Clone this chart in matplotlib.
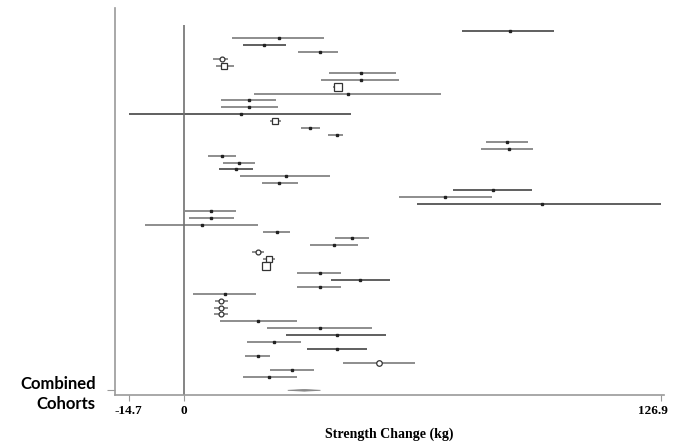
import matplotlib.pyplot as plt
import numpy as np

# --- DATA (kg) ---
lower = [74.0, 12.9, 15.6, 30.3, 7.8, 8.4, 38.5, 36.5, 39.7, 18.5,
         9.8, 9.8, -14.7, 22.8, 31.0, 38.4, 80.3, 78.9, 6.4, 10.4,
         9.3, 14.9, 20.7, 71.6, 57.1, 61.9, 0.3, 1.3, -10.3, 21.1,
         40.2, 33.4, 18.0, 21.1, 21.0, 30.0, 39.2, 30.0, 2.5, 8.3,
         8.0, 8.0, 9.6, 22.0, 27.1, 16.7, 32.7, 16.2, 42.4, 23.0,
         15.6]
estimate = [86.6, 25.2, 21.4, 36.1, 10.0, 10.7, 47.1, 47.1, 40.9, 43.6,
            17.2, 17.2, 15.1, 24.3, 33.6, 40.7, 85.8, 86.3, 10.2, 14.6,
            13.9, 27.0, 25.2, 82.2, 69.5, 95.1, 7.1, 7.3, 4.7, 24.7,
            44.8, 39.9, 19.6, 22.5, 21.8, 36.1, 46.8, 36.1, 11.0, 9.8,
            9.8, 9.8, 19.7, 36.3, 40.7, 23.9, 40.7, 19.7, 51.8, 28.8,
            22.5]
upper = [98.5, 37.3, 27.0, 40.9, 11.7, 13.4, 56.5, 57.3, 42.1, 68.4,
         24.4, 24.9, 44.5, 25.7, 36.1, 42.3, 91.4, 92.8, 13.8, 18.8,
         18.3, 38.7, 30.3, 92.6, 81.9, 126.9, 13.8, 13.4, 19.6, 28.1,
         49.2, 46.2, 21.4, 24.3, 22.6, 41.8, 54.7, 41.8, 19.2, 11.7,
         11.7, 11.7, 30.0, 50.1, 53.7, 31.0, 48.6, 22.8, 61.3, 34.7,
         30.0]
# hollow markers: row number -> (shape, size)
hollow = {5: ('o', 3.5), 6: ('s', 4), 9: ('s', 6), 14: ('s', 4.5),
          33: ('o', 3.5), 34: ('s', 4), 35: ('s', 6), 40: ('o', 3.5),
          41: ('o', 3.5), 42: ('o', 3.5), 49: ('o', 4)}
dark_rows = [1, 3, 13, 21, 24, 26, 37, 45, 47]

combined = (27.6, 32.0, 36.3)
xticks = [-14.7, 0, 126.9]
xtick_labels = ['-14.7', '0', '126.9']

fig = plt.figure(figsize=(6.73, 4.43), dpi=100)
ax = fig.add_axes([0.171, 0.108, 0.815, 0.874])

n = len(lower)
rows = np.arange(1, n + 1)
for i, r in enumerate(rows):
    col = '#444444' if r in dark_rows else '#7a7a7a'
    ax.hlines(r, lower[i], upper[i], color=col, lw=1.2)
    if r in hollow:
        shape, ms = hollow[r]
        ax.plot(estimate[i], r, marker=shape, ms=ms, mfc='white',
                mec='#333333', mew=0.9, ls='none')
    else:
        ax.plot(estimate[i], r, marker='s', ms=1.8, color='#222222', ls='none')

# combined estimate (flat diamond)
yc = n + 2
lo, est, hi = combined
ax.fill([lo, est, hi, est], [yc, yc - 0.12, yc, yc + 0.12],
        color='#888888', lw=0.6, ec='#888888')

ax.set_ylim(53.7, -2.4)
ax.set_xlim(-18.3, 127.5)
ax.vlines(0, 0, 53.7, color='#707070', lw=1.2)

ax.spines['top'].set_visible(False)
ax.spines['right'].set_visible(False)
ax.spines['left'].set_color('#999999')
ax.spines['bottom'].set_color('#999999')
ax.spines['left'].set_linewidth(1.2)
ax.spines['bottom'].set_linewidth(1.2)

# last tick label is drawn separately so it can sit a bit left of its tick
ax.set_xticks(xticks)
ax.set_xticklabels(xtick_labels[:-1] + [''], family='Liberation Serif',
                   fontweight='bold', fontsize=9.5)
ax.annotate(xtick_labels[-1], xy=(xticks[-1], 0), xycoords=('data', 'axes fraction'),
            xytext=(5, -7), textcoords='offset points', ha='right', va='top',
            family='Liberation Serif', fontweight='bold', fontsize=9.5)
ax.tick_params(axis='x', length=4, color='#999999', pad=3)
ax.set_yticks([yc])
ax.set_yticklabels(['Combined\nCohorts'], family='Lato', fontweight='bold',
                   fontsize=12, ha='right', linespacing=1.3)
ax.tick_params(axis='y', length=6, color='#999999', pad=8)

ax.set_xlabel('Strength Change (kg)', family='Liberation Serif',
              fontweight='bold', fontsize=10, labelpad=8)

plt.savefig('out.png', dpi=100)
